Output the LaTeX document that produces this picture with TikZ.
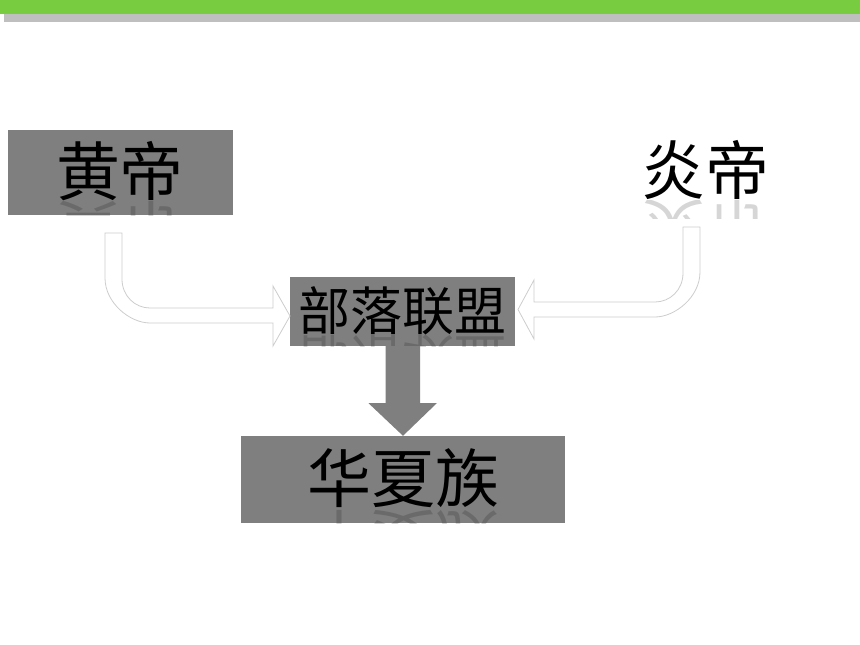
\documentclass[tikz,border=0pt]{standalone}
\usepackage{fontspec}
\newfontfamily\cjk{Noto Sans CJK SC}
\usetikzlibrary{positioning}
\definecolor{bargreen}{RGB}{119,204,63}
\definecolor{bargray}{RGB}{191,191,191}
\definecolor{boxgray}{RGB}{127,127,127}
\definecolor{arrline}{RGB}{205,205,205}
\tikzset{
  grbox/.style={fill=boxgray, inner sep=0pt},
  bigtext/.style={font=\cjk\fontsize{64}{64}\selectfont},
  midtext/.style={font=\cjk\fontsize{52}{52}\selectfont},
  mirror/.style={yscale=-1, opacity=0.16},
  bentarrow/.style={draw=arrline, fill=white, line width=0.8pt, line join=miter}
}
\begin{document}
\begin{tikzpicture}[x=1pt,y=-1pt]
    \useasboundingbox (0,0) rectangle (860,645);

    % top bars
    \fill [bargray] (4,14) rectangle (860,22);
    \fill [bargreen] (0,0) rectangle (860,14);

    % boxes
    \node [grbox, minimum width=225pt, minimum height=85pt] (hdbox) at (120.5,172.5) {};
    \node [grbox, minimum width=225pt, minimum height=69pt] (lmbox) at (402.5,311.5) {};
    \node [grbox, minimum width=324pt, minimum height=87pt] (hxbox) at (403,479.5) {};

    % reflections
    \begin{scope}
      \clip (8,201) rectangle (233,215);
      \node [bigtext, mirror] at (120,231) {黄帝};
    \end{scope}
    \begin{scope}
      \clip (600,200) rectangle (800,218);
      \node [bigtext, mirror] at (705,229) {炎帝};
    \end{scope}
    \begin{scope}
      \clip (290,335) rectangle (515,346);
      \node [midtext, mirror] at (402.5,359) {部落联盟};
    \end{scope}
    \begin{scope}
      \clip (241,509) rectangle (565,523);
      \node [bigtext, mirror] at (403,540) {华夏族};
    \end{scope}

    % texts
    \node [bigtext] (hd) at (120,171) {黄帝};
    \node [bigtext] (yd) at (705,170) {炎帝};
    \node [midtext] (lm) at (402.5,310.5) {部落联盟};
    \node [bigtext] (hx) at (403,478) {华夏族};

    % bent arrows
    \coordinate (ltip) at (290,316);
    \coordinate (rtip) at (518,309.5);
    \draw [bentarrow] (105,233) -- (105,278)
        .. controls (105,303) and (130,323) .. (150,323)
        -- (273,323) -- (273,346) -- (ltip) -- (273,286) -- (273,308)
        -- (150,308) .. controls (135,308) and (122,296) .. (122,279)
        -- (122,233) -- cycle;
    \draw [bentarrow] (700,227) -- (700,272)
        .. controls (700,297) and (675,317) .. (655,317)
        -- (534,317) -- (534,339) -- (rtip) -- (534,280) -- (534,302)
        -- (655,302) .. controls (670,302) and (683,290) .. (683,273)
        -- (683,227) -- cycle;

    % down arrow
    \fill [boxgray] (lmbox.south) ++(-17,0) -- ++(0,57) -- ++(-17,0)
        -- (hxbox.north) -- (437,403) -- (420,403) -- (420,346) -- cycle;

\end{tikzpicture}
\end{document}
